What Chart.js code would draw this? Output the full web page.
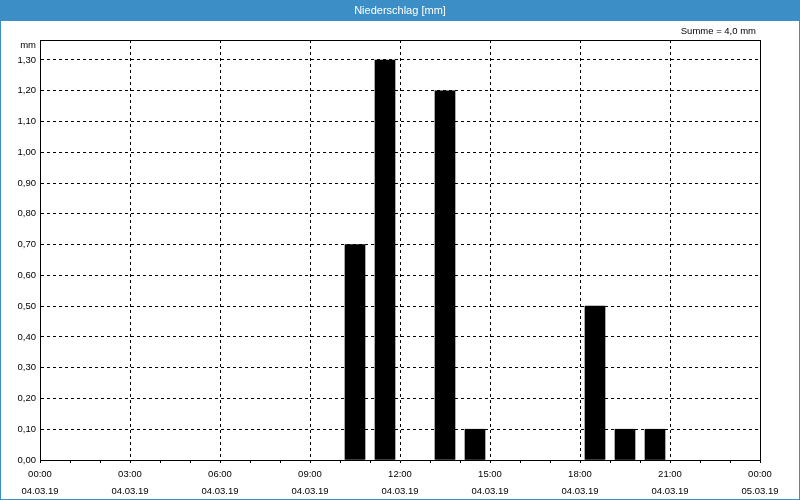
<!DOCTYPE html>
<html><head><meta charset="utf-8">
<script src="https://cdn.jsdelivr.net/npm/chart.js@4"></script>
<style>html,body{margin:0;padding:0;background:#fff}canvas{display:block}</style>
</head><body>
<canvas id="c" width="800" height="500"></canvas>
<script>
// Data
const hours = [10, 11, 13, 14, 18, 19, 20];           // hour bucket start
const values = [0.7, 1.3, 1.2, 0.1, 0.5, 0.1, 0.1];   // mm per hour
const timeLabels = ['00:00','03:00','06:00','09:00','12:00','15:00','18:00','21:00','00:00'];
const dateLabels = ['04.03.19','04.03.19','04.03.19','04.03.19','04.03.19','04.03.19','04.03.19','04.03.19','05.03.19'];
const yMax = 1.365;
const titleText = 'Niederschlag [mm]';
const unitText = 'mm';

const FONT = 'Liberation Sans';
const total = values.reduce((a, b) => a + b, 0);
const sumText = 'Summe = ' + total.toFixed(1).replace('.', ',') + ' mm';

const decor = {
  id: 'decor',
  beforeDraw(chart) {
    const c = chart.ctx, W = chart.width, H = chart.height;
    c.save();
    c.fillStyle = '#ffffff';
    c.fillRect(0, 0, W, H);
    c.fillStyle = '#3c8fc6';
    c.fillRect(0, 0, W, 21);
    c.fillRect(0, 0, 1, H);
    c.fillRect(W - 1, 0, 1, H);
    c.fillRect(0, H - 1, W, 1);
    c.fillStyle = '#ffffff';
    c.font = '11px "' + FONT + '"';
    c.textAlign = 'center';
    c.textBaseline = 'middle';
    c.fillText(titleText, W / 2, 11);
    c.fillStyle = '#000';
    c.font = '9.5px "' + FONT + '"';
    c.textAlign = 'right';
    c.fillText(sumText, 756, 31);
    c.restore();
  },
  afterDraw(chart) {
    const a = chart.chartArea, c = chart.ctx;
    c.save();
    c.strokeStyle = '#000';
    c.lineWidth = 1;
    c.beginPath();
    c.moveTo(a.left, Math.round(a.top) + 0.5);
    c.lineTo(Math.round(a.right) + 0.5, Math.round(a.top) + 0.5);
    c.lineTo(Math.round(a.right) + 0.5, a.bottom);
    c.stroke();
    c.fillStyle = '#000';
    c.font = '9.5px "' + FONT + '"';
    c.textAlign = 'right';
    c.textBaseline = 'middle';
    c.fillText(unitText, a.left - 4, a.top + 5);
    c.restore();
  }
};

new Chart(document.getElementById('c'), {
  type: 'bar',
  data: {
    datasets: [{
      data: hours.map((h, i) => ({ x: h + 0.5, y: values[i] })),
      backgroundColor: '#000',
      borderWidth: 0,
      barThickness: 20
    }]
  },
  options: {
    responsive: false,
    animation: false,
    devicePixelRatio: 1,
    layout: { padding: { top: 40, right: 40, left: 0, bottom: 0 } },
    plugins: { legend: { display: false }, tooltip: { enabled: false }, title: { display: false } },
    scales: {
      x: {
        type: 'linear',
        min: 0, max: 24,
        offset: false,
        afterFit(s) { s.height = 40; },
        grid: {
          offset: false,
          color: ctx => (ctx.tick && ctx.tick.value % 3 === 0) ? '#000' : 'rgba(0,0,0,0)',
          tickColor: '#000',
          tickLength: 3,
          lineWidth: 1
        },
        border: { display: true, color: '#000', width: 1, dash: [3, 3] },
        ticks: {
          stepSize: 1,
          autoSkip: false,
          maxRotation: 0,
          padding: 3,
          color: '#000',
          font: { family: FONT, size: 9.5, lineHeight: 1.75 },
          callback: v => (v % 3 === 0) ? [timeLabels[v / 3], dateLabels[v / 3]] : ''
        }
      },
      y: {
        min: 0, max: yMax,
        afterFit(s) { s.width = 40; },
        afterBuildTicks(s) {
          s.ticks = s.ticks.filter(t => Math.abs(t.value * 10 - Math.round(t.value * 10)) < 1e-6);
        },
        grid: { color: '#000', drawTicks: false, lineWidth: 1 },
        border: { display: true, color: '#000', width: 1, dash: [3, 3] },
        ticks: {
          stepSize: 0.1,
          padding: 4,
          color: '#000',
          font: { family: FONT, size: 9.5 },
          callback: v => v.toFixed(2).replace('.', ',')
        }
      }
    }
  },
  plugins: [decor]
});
</script>
</body></html>
